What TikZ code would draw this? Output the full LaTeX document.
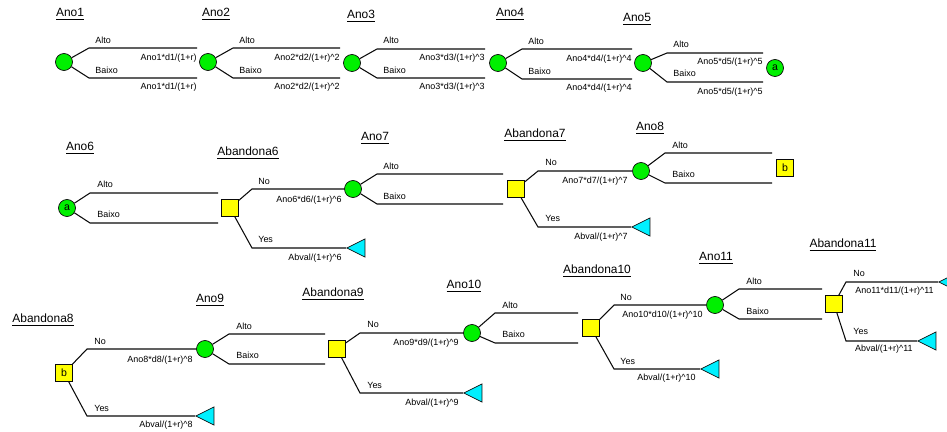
\documentclass[tikz,border=0pt]{standalone}
\usepackage{fontspec}
\setmainfont{Liberation Sans}
\usetikzlibrary{shapes.geometric}
\definecolor{chancecolor}{RGB}{0,240,0}
\definecolor{decisioncolor}{RGB}{255,255,0}
\definecolor{payoffcolor}{RGB}{0,240,255}
\definecolor{borderline}{RGB}{10,10,10}

\begin{document}
\begin{tikzpicture}[x=0.02cm,y=-0.02cm]
\tikzset{chance/.style={circle,draw=borderline,fill=chancecolor,minimum size=0.34cm,inner sep=0pt,font=\fontsize{6}{7}\selectfont},
  decision/.style={rectangle,draw=borderline,fill=decisioncolor,minimum size=0.34cm,inner sep=0pt,font=\fontsize{6}{7}\selectfont},
  payoff/.style={isosceles triangle,isosceles triangle stretches,shape border rotate=180,draw=borderline,fill=payoffcolor,
    minimum width=0.36cm,minimum height=0.36cm,inner sep=0pt,anchor=apex},
  branch/.style={draw=borderline,line width=0.6pt},
  title/.style={font=\fontsize{6.8}{8}\selectfont,inner sep=0pt},
  lbl/.style={font=\fontsize{5.1}{6}\selectfont,inner sep=0pt,anchor=west},
  val/.style={font=\fontsize{5.1}{6}\selectfont,inner sep=0pt,anchor=east}}

\useasboundingbox (0,0) rectangle (947,432);
\clip (0,0) rectangle (947,432);

% first row
\node[title] (ano1) at (70,14) {\underline{Ano1}};
\node[title] (ano2) at (216,14) {\underline{Ano2}};
\node[title] (ano3) at (361,16) {\underline{Ano3}};
\node[title] (ano4) at (510,14) {\underline{Ano4}};
\node[title] (ano5) at (637,19) {\underline{Ano5}};

\node[chance] (c1) at (64,62) {};
\node[chance] (c2) at (208,62) {};
\node[chance] (c3) at (352,63) {};
\node[chance] (c4) at (498,63) {};
\node[chance] (c5) at (643,63) {};
\node[chance] (ga) at (775,68) {a};

\coordinate (c1hi) at (89,48);  \coordinate (c1hiend) at (197,48);
\coordinate (c1lo) at (89,78);  \coordinate (c1loend) at (197,78);
\coordinate (c2hi) at (233,48); \coordinate (c2hiend) at (340,48);
\coordinate (c2lo) at (233,78); \coordinate (c2loend) at (340,78);
\coordinate (c3hi) at (377,49); \coordinate (c3hiend) at (485,49);
\coordinate (c3lo) at (377,78); \coordinate (c3loend) at (485,78);
\coordinate (c4hi) at (522,49); \coordinate (c4hiend) at (632,49);
\coordinate (c4lo) at (522,79); \coordinate (c4loend) at (632,79);
\coordinate (c5hi) at (667,53); \coordinate (c5hiend) at (763,53);
\coordinate (c5lo) at (667,82); \coordinate (c5loend) at (763,82);

\draw[branch] (c1) -- (c1hi) -- (c1hiend);
\draw[branch] (c1) -- (c1lo) -- (c1loend);
\draw[branch] (c2) -- (c2hi) -- (c2hiend);
\draw[branch] (c2) -- (c2lo) -- (c2loend);
\draw[branch] (c3) -- (c3hi) -- (c3hiend);
\draw[branch] (c3) -- (c3lo) -- (c3loend);
\draw[branch] (c4) -- (c4hi) -- (c4hiend);
\draw[branch] (c4) -- (c4lo) -- (c4loend);
\draw[branch] (c5) -- (c5hi) -- (c5hiend);
\draw[branch] (c5) -- (c5lo) -- (c5loend);

\node[lbl] (c1alto) at (95,40) {Alto};   \node[lbl] (c1baixo) at (95,70) {Baixo};
\node[lbl] (c2alto) at (239,40) {Alto};  \node[lbl] (c2baixo) at (239,70) {Baixo};
\node[lbl] (c3alto) at (383,40) {Alto};  \node[lbl] (c3baixo) at (383,70) {Baixo};
\node[lbl] (c4alto) at (528,41) {Alto};  \node[lbl] (c4baixo) at (528,71) {Baixo};
\node[lbl] (c5alto) at (673,44) {Alto};  \node[lbl] (c5baixo) at (673,73) {Baixo};

\node[val] (c1v1) at (197,58) {Ano1*d1/(1+r)};
\node[val] (c1v2) at (197,87) {Ano1*d1/(1+r)};
\node[val] (c2v1) at (340,58) {Ano2*d2/(1+r)\textasciicircum 2};
\node[val] (c2v2) at (340,87) {Ano2*d2/(1+r)\textasciicircum 2};
\node[val] (c3v1) at (485,58) {Ano3*d3/(1+r)\textasciicircum 3};
\node[val] (c3v2) at (485,87) {Ano3*d3/(1+r)\textasciicircum 3};
\node[val] (c4v1) at (632,59) {Ano4*d4/(1+r)\textasciicircum 4};
\node[val] (c4v2) at (632,88) {Ano4*d4/(1+r)\textasciicircum 4};
\node[val] (c5v1) at (763,62) {Ano5*d5/(1+r)\textasciicircum 5};
\node[val] (c5v2) at (763,92) {Ano5*d5/(1+r)\textasciicircum 5};

% second row
\node[title] (ano6) at (80,148) {\underline{Ano6}};
\node[title] (ab6) at (248,153) {\underline{Abandona6}};
\node[title] (ano7) at (375,138) {\underline{Ano7}};
\node[title] (ab7) at (535,135) {\underline{Abandona7}};
\node[title] (ano8) at (650,128) {\underline{Ano8}};

\node[chance] (a6) at (67,208) {a};
\node[decision] (s6) at (230,208) {};
\node[chance] (c7) at (353,189) {};
\node[decision] (s7) at (516,189) {};
\node[chance] (c8) at (641,171) {};
\node[decision] (gb) at (785,168) {b};
\node[payoff] (t6) at (346,248) {};
\node[payoff] (t7) at (631,227) {};

\coordinate (a6hi) at (90,193);  \coordinate (a6hiend) at (218,193);
\coordinate (a6lo) at (90,223);  \coordinate (a6loend) at (218,223);
\coordinate (s6no) at (252,189); \coordinate (s6yes) at (252,248);
\coordinate (c7hi) at (377,174); \coordinate (c7hiend) at (503,174);
\coordinate (c7lo) at (377,204); \coordinate (c7loend) at (503,204);
\coordinate (s7no) at (538,171); \coordinate (s7yes) at (538,227);
\coordinate (c8hi) at (665,153); \coordinate (c8hiend) at (772,153);
\coordinate (c8lo) at (665,183); \coordinate (c8loend) at (772,183);

\draw[branch] (a6) -- (a6hi) -- (a6hiend);
\draw[branch] (a6) -- (a6lo) -- (a6loend);
\draw[branch] (s6) -- (s6no) -- (c7);
\draw[branch] (s6) -- (s6yes) -- (t6.apex);
\draw[branch] (c7) -- (c7hi) -- (c7hiend);
\draw[branch] (c7) -- (c7lo) -- (c7loend);
\draw[branch] (s7) -- (s7no) -- (c8);
\draw[branch] (s7) -- (s7yes) -- (t7.apex);
\draw[branch] (c8) -- (c8hi) -- (c8hiend);
\draw[branch] (c8) -- (c8lo) -- (c8loend);

\node[lbl] (a6alto) at (97,184) {Alto};  \node[lbl] (a6baixo) at (97,214) {Baixo};
\node[lbl] (s6n) at (258,181) {No};      \node[lbl] (s6y) at (258,239) {Yes};
\node[lbl] (c7alto) at (383,166) {Alto}; \node[lbl] (c7baixo) at (383,196) {Baixo};
\node[lbl] (s7n) at (545,162) {No};      \node[lbl] (s7y) at (545,218) {Yes};
\node[lbl] (c8alto) at (672,145) {Alto}; \node[lbl] (c8baixo) at (672,174) {Baixo};

\node[val] (s6v1) at (342,200) {Ano6*d6/(1+r)\textasciicircum 6};
\node[val] (s6v2) at (342,258) {Abval/(1+r)\textasciicircum 6};
\node[val] (s7v1) at (628,181) {Ano7*d7/(1+r)\textasciicircum 7};
\node[val] (s7v2) at (628,237) {Abval/(1+r)\textasciicircum 7};

% third row
\node[title] (ab8) at (43,320) {\underline{Abandona8}};
\node[title] (ano9) at (210,300) {\underline{Ano9}};
\node[title] (ab9) at (333,294) {\underline{Abandona9}};
\node[title] (ano10) at (464,286) {\underline{Ano10}};
\node[title] (ab10) at (597,271) {\underline{Abandona10}};
\node[title] (ano11) at (716,258) {\underline{Ano11}};
\node[title] (ab11) at (843,245) {\underline{Abandona11}};

\node[decision] (sb) at (64,373) {b};
\node[chance] (c9) at (205,349) {};
\node[decision] (s9) at (337,349) {};
\node[chance] (c10) at (472,333) {};
\node[decision] (s10) at (591,328) {};
\node[chance] (c11) at (715,305) {};
\node[decision] (s11) at (834,304) {};
\node[payoff] (t8) at (195,416) {};
\node[payoff] (t9) at (463,393) {};
\node[payoff] (t10) at (700,369) {};
\node[payoff] (t11a) at (938,282) {};
\node[payoff] (t11b) at (917,341) {};

\coordinate (sbno) at (87,349);    \coordinate (sbyes) at (87,416);
\coordinate (c9hi) at (229,334);   \coordinate (c9hiend) at (325,334);
\coordinate (c9lo) at (229,364);   \coordinate (c9loend) at (325,364);
\coordinate (s9no) at (360,333);   \coordinate (s9yes) at (360,393);
\coordinate (c10hi) at (495,313);  \coordinate (c10hiend) at (578,313);
\coordinate (c10lo) at (495,343);  \coordinate (c10loend) at (578,343);
\coordinate (s10no) at (614,305);  \coordinate (s10yes) at (614,369);
\coordinate (c11hi) at (739,289);  \coordinate (c11hiend) at (822,289);
\coordinate (c11lo) at (739,319);  \coordinate (c11loend) at (822,319);
\coordinate (s11no) at (846,282);  \coordinate (s11yes) at (846,341);

\draw[branch] (sb) -- (sbno) -- (c9);
\draw[branch] (sb) -- (sbyes) -- (t8.apex);
\draw[branch] (c9) -- (c9hi) -- (c9hiend);
\draw[branch] (c9) -- (c9lo) -- (c9loend);
\draw[branch] (s9) -- (s9no) -- (c10);
\draw[branch] (s9) -- (s9yes) -- (t9.apex);
\draw[branch] (c10) -- (c10hi) -- (c10hiend);
\draw[branch] (c10) -- (c10lo) -- (c10loend);
\draw[branch] (s10) -- (s10no) -- (c11);
\draw[branch] (s10) -- (s10yes) -- (t10.apex);
\draw[branch] (c11) -- (c11hi) -- (c11hiend);
\draw[branch] (c11) -- (c11lo) -- (c11loend);
\draw[branch] (s11) -- (s11no) -- (t11a.apex);
\draw[branch] (s11) -- (s11yes) -- (t11b.apex);

\node[lbl] (sbn) at (94,341) {No};         \node[lbl] (sby) at (94,408) {Yes};
\node[lbl] (c9alto) at (236,326) {Alto};   \node[lbl] (c9baixo) at (236,355) {Baixo};
\node[lbl] (s9n) at (367,324) {No};        \node[lbl] (s9y) at (367,385) {Yes};
\node[lbl] (c10alto) at (502,305) {Alto};  \node[lbl] (c10baixo) at (502,334) {Baixo};
\node[lbl] (s10n) at (620,297) {No};       \node[lbl] (s10y) at (620,361) {Yes};
\node[lbl] (c11alto) at (746,281) {Alto};  \node[lbl] (c11baixo) at (746,311) {Baixo};
\node[lbl] (s11n) at (853,273) {No};       \node[lbl] (s11y) at (853,331) {Yes};

\node[val] (sbv1) at (193,360) {Ano8*d8/(1+r)\textasciicircum 8};
\node[val] (sbv2) at (193,425) {Abval/(1+r)\textasciicircum 8};
\node[val] (s9v1) at (459,343) {Ano9*d9/(1+r)\textasciicircum 9};
\node[val] (s9v2) at (459,403) {Abval/(1+r)\textasciicircum 9};
\node[val] (s10v1) at (703,315) {Ano10*d10/(1+r)\textasciicircum 10};
\node[val] (s10v2) at (696,378) {Abval/(1+r)\textasciicircum 10};
\node[val] (s11v1) at (934,291) {Ano11*d11/(1+r)\textasciicircum 11};
\node[val] (s11v2) at (913,349) {Abval/(1+r)\textasciicircum 11};
\end{tikzpicture}
\end{document}
